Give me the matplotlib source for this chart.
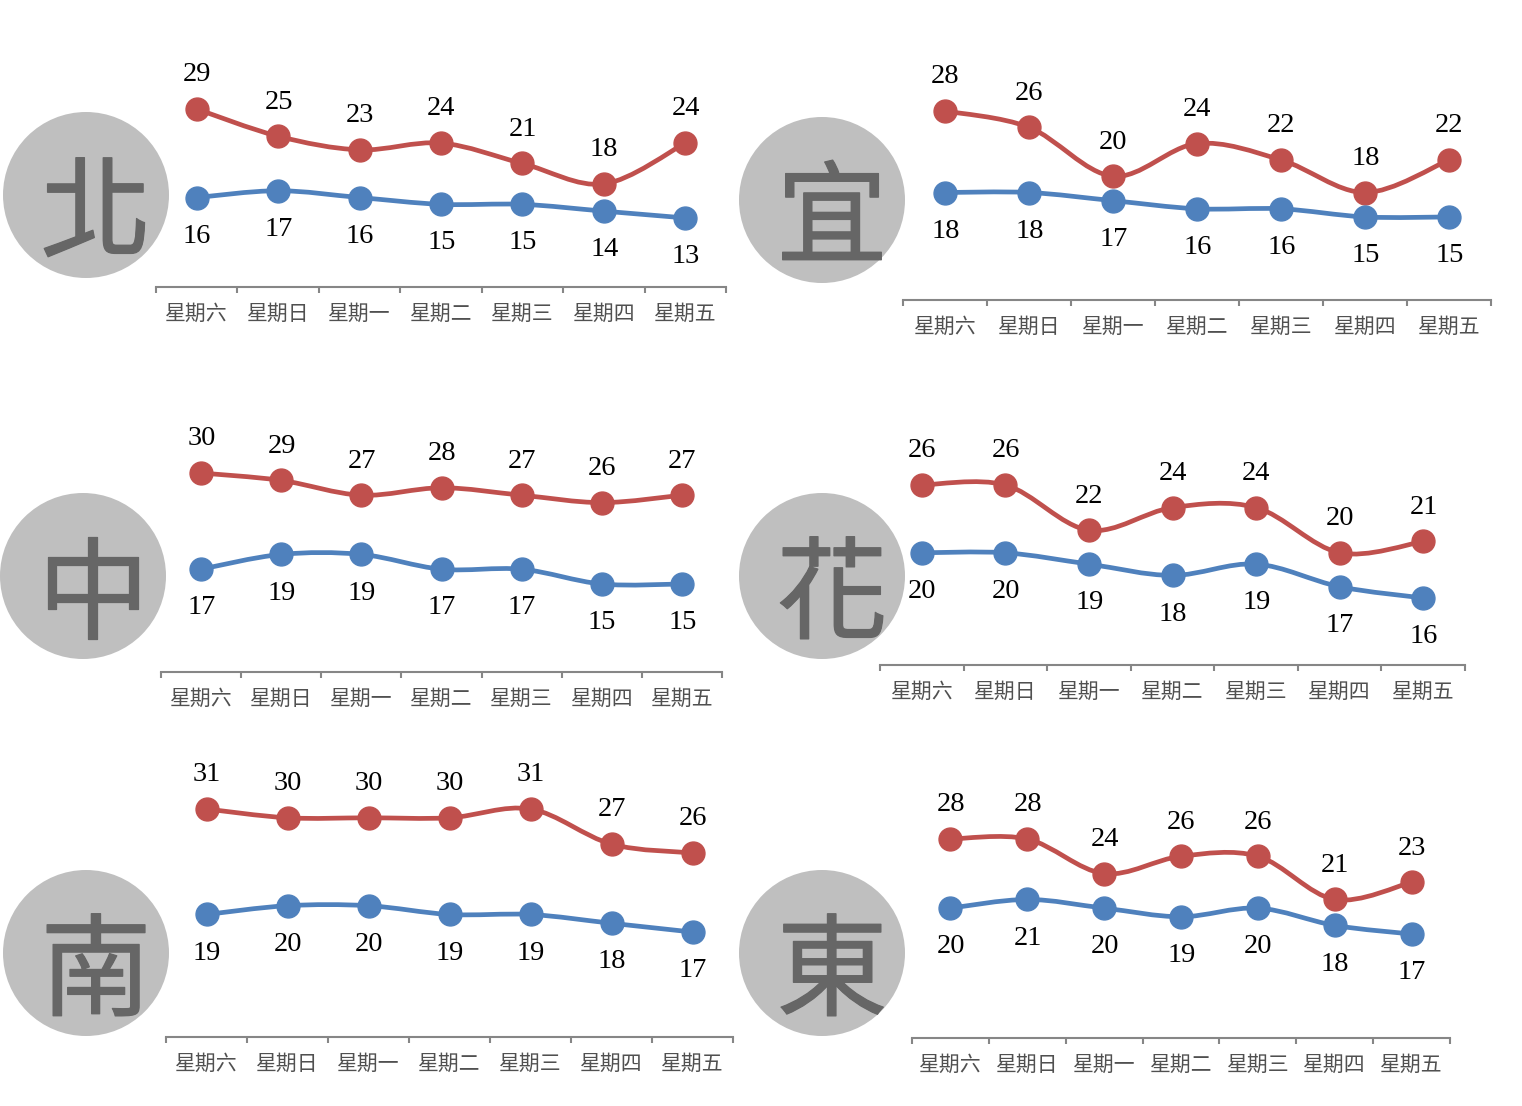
import matplotlib
matplotlib.use('Agg')
import matplotlib.pyplot as plt
import matplotlib.patheffects as pe
from matplotlib.patches import Circle, PathPatch
from matplotlib.path import Path

plt.rcParams['font.family'] = ['Noto Sans CJK TC', 'DejaVu Sans']

days = ['星期六', '星期日', '星期一', '星期二', '星期三', '星期四', '星期五']

names = ['北', '宜', '中', '花', '南', '東']

high_bei = [29, 25, 23, 24, 21, 18, 24]
low_bei = [16, 17, 16, 15, 15, 14, 13]
high_yi = [28, 26, 20, 24, 22, 18, 22]
low_yi = [18, 18, 17, 16, 16, 15, 15]
high_zhong = [30, 29, 27, 28, 27, 26, 27]
low_zhong = [17, 19, 19, 17, 17, 15, 15]
high_hua = [26, 26, 22, 24, 24, 20, 21]
low_hua = [20, 20, 19, 18, 19, 17, 16]
high_nan = [31, 30, 30, 30, 31, 27, 26]
low_nan = [19, 20, 20, 19, 19, 18, 17]
high_dong = [28, 28, 24, 26, 26, 21, 23]
low_dong = [20, 21, 20, 19, 20, 18, 17]

highs = [high_bei, high_yi, high_zhong, high_hua, high_nan, high_dong]
lows = [low_bei, low_yi, low_zhong, low_hua, low_nan, low_dong]

W, H = 1522, 1106
RED = '#C0504D'
BLUE = '#4F81BD'
AXIS = '#868686'

# pixel layout: axis left, axis right, axis y, y of the top value, px per degree
panels = [
    (156, 726, 287, 109, 6.81),
    (903, 1491, 300, 111, 8.15),
    (161, 722, 672, 473, 7.4),
    (880, 1465, 665, 485, 11.3),
    (166, 733, 1037, 809, 8.79),
    (912, 1450, 1038, 839, 8.64),
]
circles = [(86, 195), (822, 200), (83, 576), (822, 576), (86, 953), (822, 953)]


def smooth_path(xs, ys):
    # same kind of curve as the "smoothed line" option in a spreadsheet
    verts = [(xs[0], ys[0])]
    codes = [Path.MOVETO]
    n = len(xs)
    for i in range(n - 1):
        a = max(i - 1, 0)
        b = min(i + 2, n - 1)
        verts.append((xs[i] + (xs[i + 1] - xs[a]) / 6, ys[i] + (ys[i + 1] - ys[a]) / 6))
        verts.append((xs[i + 1] - (xs[b] - xs[i]) / 6, ys[i + 1] - (ys[b] - ys[i]) / 6))
        verts.append((xs[i + 1], ys[i + 1]))
        codes += [Path.CURVE4] * 3
    return Path(verts, codes)


def draw_series(ax, xs, values, color, offset):
    ax.add_patch(PathPatch(smooth_path(xs, values), fc='none', ec=color, lw=3.4,
                           clip_on=False, capstyle='round'))
    ax.plot(xs, values, ls='none', marker='o', ms=16.5, color=color, mec=color, clip_on=False)
    for x, v in zip(xs, values):
        ax.annotate(str(v), (x, v), xytext=(0.3, offset), textcoords='offset points',
                    ha='center', va='center', fontsize=20.5, color='black',
                    family=['Liberation Serif'])


fig = plt.figure(figsize=(W / 100, H / 100), dpi=100, facecolor='white')

back = fig.add_axes([0, 0, 1, 1])
back.set_xlim(0, W)
back.set_ylim(H, 0)
back.axis('off')

for name, (cx, cy) in zip(names, circles):
    back.add_patch(Circle((cx, cy), 83, fc='#BFBFBF', ec='none'))
    back.text(cx + 10, cy + 22, name, ha='center', va='center', fontsize=80, color='#666666',
              path_effects=[pe.withStroke(linewidth=0.9, foreground='#666666')])

for high, low, (x0, x1, ay, top_y, scale) in zip(highs, lows, panels):
    ax = fig.add_axes([x0 / W, 1 - ay / H, (x1 - x0) / W, (ay - top_y) / H])
    ax.patch.set_alpha(0)
    xs = list(range(len(days)))
    ax.set_xlim(-0.5, len(days) - 0.5)
    top = max(high)
    ax.set_ylim(top - (ay - top_y) / scale, top)

    draw_series(ax, xs, high, RED, 24.6)
    draw_series(ax, xs, low, BLUE, -27.8)

    for side in ['top', 'left', 'right']:
        ax.spines[side].set_visible(False)
    ax.spines['bottom'].set_color(AXIS)
    ax.spines['bottom'].set_linewidth(1.5)
    ax.set_yticks([])
    ax.set_xticks([i - 0.5 for i in range(len(days) + 1)])
    ax.set_xticklabels([])
    ax.tick_params(axis='x', which='major', direction='out', length=4, width=1.5, color=AXIS)
    ax.set_xticks(xs, minor=True)
    ax.set_xticklabels(days, minor=True, fontsize=15, color='#505050')
    ax.tick_params(axis='x', which='minor', length=0, pad=11.5)

fig.savefig('out.png', dpi=100)
